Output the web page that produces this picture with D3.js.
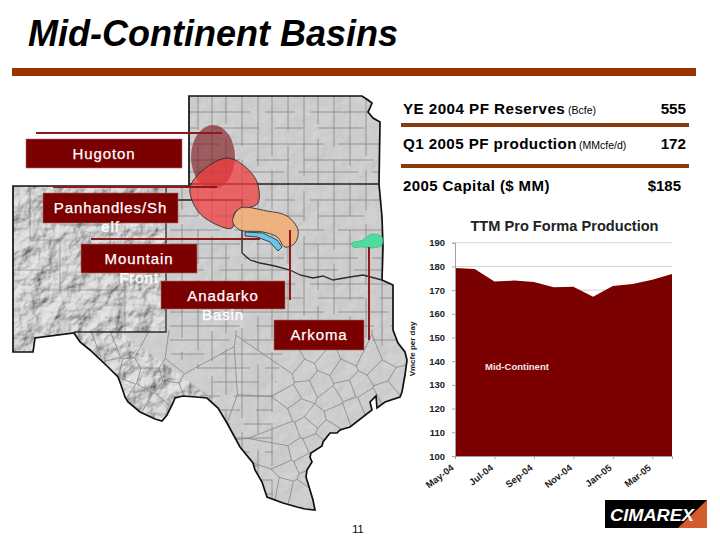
<!doctype html>
<html>
<head>
<script src="https://cdnjs.cloudflare.com/ajax/libs/d3/7.8.5/d3.min.js"></script>
<style>
  html, body { margin: 0; padding: 0; background: #fff; }
  text { font-family: "Liberation Sans", Arial, sans-serif; }
  .axis path.domain { stroke: #a0a0a0; }
  .axis line { stroke: #a0a0a0; }
  .axis text { font-family: "Liberation Sans", Arial, sans-serif; font-weight: bold; font-size: 9.5px; fill: #222; }
</style>
</head>
<body>
<svg id="slide" width="720" height="540"></svg>
<script>
// chart values
var months = ["May-04","Jun-04","Jul-04","Aug-04","Sep-04","Oct-04","Nov-04","Dec-04","Jan-05","Feb-05","Mar-05","Apr-05"];
var production = [179.3, 178.9, 173.6, 174.0, 173.4, 171.2, 171.4, 167.2, 171.7, 172.6, 174.4, 176.8];
var yTicks = [100,110,120,130,140,150,160,170,180,190];
var xTickLabels = ["May-04","Jul-04","Sep-04","Nov-04","Jan-05","Mar-05"];

// map shapes in slide pixels
var mapOutline = [[189,96],[362,96],[368,100],[372,103],[370,108],[368,112],[373,118],[380,122],[379,184],[382,217],[383,247],[382,280],[393,285],[393,330],[398,343],[405,352],[407,360],[405,375],[402,392],[400,397],[385,402],[377,408],[376,396],[370,402],[372,410],[350,427],[340,430],[337,433],[330,433],[323,442],[322,446],[311,453],[310,457],[312,462],[307,470],[306,477],[310,490],[313,500],[315,510],[305,509],[297,507],[283,503],[267,497],[262,482],[255,470],[253,463],[240,447],[227,423],[218,408],[207,398],[196,397],[183,396],[175,398],[173,403],[167,415],[162,421],[155,419],[140,412],[128,402],[125,397],[121,385],[118,377],[108,367],[90,350],[80,342],[74,333],[35,338],[33,352],[13,352],[13,186],[189,186]];
var stateLines = [
  [[189,184],[379,184]],
  [[177,200],[242,200],[242,253],[250,260],[260,263],[275,266],[290,270],[300,275],[313,278],[323,276],[333,280],[350,277],[363,275],[382,280]],
  [[166,186],[166,332],[74,332]]
];
var gridRegion = [[167,90],[400,90],[400,345],[283,350],[273,400],[273,510],[225,510],[200,397],[200,370],[167,352]];
var countyCols = [182,198,212,226,242,258,272,288,304,318,334,350,366,382];
var countyDash = ["60 14 40 14","34 16 70 14","80 15 30 15","28 15 46 16","50 14 90 14","70 16 34 14"];
var countyRows = [112,128,144,160,172,184,200,216,230,244,258,270,284,298,312,326,340,354,368,382,396,410,424,438,452,466,480,494];
var nmCounties = [[[30,186],[30,240],[60,240],[60,290]],[[60,186],[60,225],[110,225]],[[110,186],[110,262],[166,262]],[[60,290],[125,290],[125,332]],[[125,225],[125,262]],[[13,270],[60,270]]];
var countySeeds = [[292,362],[314,350],[328,362],[352,352],[370,361],[392,352],[281,378],[304,372],[319,384],[343,372],[358,386],[381,372],[399,383],[292,398],[306,390],[331,400],[347,390],[368,402],[388,392],[279,416],[299,408],[314,420],[337,414],[354,408],[286,434],[309,426],[326,432],[298,452],[316,444],[282,456],[288,470],[304,463],[283,488],[300,492],[310,478],[272,486],[92,358],[108,352],[126,345],[150,358],[172,372],[192,384],[128,372],[150,378],[170,392],[138,398],[156,408],[112,368],[180,362],[122,388]];

// basins
var redBasin = [[190,188],[203,170],[227,158],[243,165],[257,182],[258,203],[248,208],[235,212],[232,228],[213,223],[197,210]];
var orangeBasin = [[233,218],[240,208],[267,211],[287,216],[298,230],[295,243],[285,247],[277,237],[263,232],[240,230],[233,223]];
var blueBasin = [[245,232],[263,233],[277,240],[282,247],[278,251],[270,242],[257,237],[245,236]];
var greenBasin = [[352,243],[363,240],[372,234],[382,237],[382,245],[373,248],[363,247],[353,247]];

// basin label boxes
var labelNames = [["Hugoton"],["Panhandles/Sh","elf"],["Mountain","Front"],["Anadarko","Basin"],["Arkoma"]];
var labelBoxes = [[26,139,156,29],[43,193,135,30],[81,244,116,29],[161,281,124,28],[274,320,90,30]];
var leaderLines = [[36,133,222,133],[53,187,217,187],[91,239,260,239],[290,230,290,300],[369,247,369,340]];

var svg = d3.select("#slide");
var defs = svg.append("defs");
var polyLine = d3.line().curve(d3.curveLinearClosed);
var smooth = d3.line().curve(d3.curveCatmullRomClosed.alpha(0.5));
var openLine = d3.line();

defs.append("clipPath").attr("id", "mapClip").append("path").attr("d", polyLine(mapOutline));
defs.append("clipPath").attr("id", "gridClip").append("path").attr("d", polyLine(gridRegion));
defs.append("clipPath").attr("id", "westClip").append("path").attr("d", polyLine([[0,180],[166,180],[166,332],[120,332],[215,400],[170,430],[100,400],[60,340],[0,360]]));

function relief(id, freq, scale, light, elevation) {
  var f = defs.append("filter").attr("id", id).attr("x", 0).attr("y", 0).attr("width", "100%").attr("height", "100%");
  f.append("feTurbulence").attr("type", "fractalNoise").attr("baseFrequency", freq).attr("numOctaves", 4).attr("seed", 7).attr("result", "n");
  var l = f.append("feDiffuseLighting").attr("in", "n").attr("surfaceScale", scale).attr("diffuseConstant", 1).attr("lighting-color", light);
  l.append("feDistantLight").attr("azimuth", 225).attr("elevation", elevation);
}
relief("reliefSoft", 0.05, 1, "#dcdcdc", 60);
relief("reliefHard", 0.05, 6, "#e8e8e8", 50);

// title and rule
svg.append("text").attr("x", 28).attr("y", 46).attr("font-size", 36).attr("font-weight", "bold").attr("font-style", "italic").attr("fill", "#000").text("Mid-Continent Basins");
svg.append("rect").attr("x", 12).attr("y", 68).attr("width", 684).attr("height", 8).attr("fill", "#993300");

// map
var map = svg.append("g").attr("clip-path", "url(#mapClip)");
map.append("rect").attr("x", 0).attr("y", 90).attr("width", 420).attr("height", 430).attr("fill", "#c8c8c8");
map.append("rect").attr("x", 0).attr("y", 90).attr("width", 420).attr("height", 430).attr("filter", "url(#reliefSoft)").attr("opacity", 0.9);
map.append("g").attr("clip-path", "url(#westClip)")
  .append("rect").attr("x", 0).attr("y", 180).attr("width", 240).attr("height", 260).attr("filter", "url(#reliefHard)").attr("opacity", 0.9);

var grid = map.append("g").attr("clip-path", "url(#gridClip)").attr("stroke", "#858585").attr("stroke-width", 0.8);
grid.selectAll("line.col").data(countyCols).join("line").attr("class", "col")
  .attr("x1", d => d).attr("x2", d => d).attr("y1", 96).attr("y2", 510)
  .attr("stroke-dasharray", (d, i) => countyDash[i % countyDash.length]);
grid.selectAll("line.row").data(countyRows).join("line").attr("class", "row")
  .attr("x1", 170).attr("x2", 400).attr("y1", d => d).attr("y2", d => d)
  .attr("stroke-dasharray", (d, i) => countyDash[(i + 2) % countyDash.length]);

map.selectAll("path.nm").data(nmCounties).join("path").attr("class", "nm")
  .attr("d", d => openLine(d)).attr("fill", "none").attr("stroke", "#8a8a8a").attr("stroke-width", 0.7);

var voronoi = d3.Delaunay.from(countySeeds).voronoi([60, 330, 420, 520]);
map.append("path").attr("d", voronoi.render()).attr("fill", "none").attr("stroke", "#858585").attr("stroke-width", 0.8);

svg.append("path").attr("d", polyLine(mapOutline)).attr("fill", "none").attr("stroke", "#111").attr("stroke-width", 1.7);
svg.selectAll("path.state").data(stateLines).join("path").attr("class", "state")
  .attr("d", d => openLine(d)).attr("fill", "none").attr("stroke", "#2a2a2a").attr("stroke-width", 1.3);

// basins
svg.append("ellipse").attr("cx", 213).attr("cy", 157).attr("rx", 22).attr("ry", 32).attr("fill", "#7b0f16").attr("opacity", 0.6);
svg.append("path").attr("d", smooth(redBasin)).attr("fill", "#f23c3c").attr("fill-opacity", 0.72).attr("stroke", "#222").attr("stroke-width", 0.8);
svg.append("path").attr("d", smooth(orangeBasin)).attr("fill", "#f0b078").attr("fill-opacity", 0.92).attr("stroke", "#222").attr("stroke-width", 0.8);
svg.append("path").attr("d", polyLine(blueBasin)).attr("fill", "#6cc4e6").attr("stroke", "#222").attr("stroke-width", 0.8);
svg.append("path").attr("d", smooth(greenBasin)).attr("fill", "#4fdc9c").attr("stroke", "#2a6").attr("stroke-width", 0.5);

// leaders and label boxes
svg.selectAll("line.leader").data(leaderLines).join("line").attr("class", "leader")
  .attr("x1", d => d[0]).attr("y1", d => d[1]).attr("x2", d => d[2]).attr("y2", d => d[3])
  .attr("stroke", "#8b1a1a").attr("stroke-width", 2);

labelBoxes.forEach(function(b, i) {
  svg.append("rect").attr("x", b[0]).attr("y", b[1]).attr("width", b[2]).attr("height", b[3])
    .attr("fill", "#7b0000").attr("stroke", "#a86a6a").attr("stroke-width", 0.6);
  labelNames[i].forEach(function(t, j) {
    svg.append("text").attr("x", b[0] + b[2] / 2).attr("y", b[1] + 20 + j * 19)
      .attr("text-anchor", "middle").attr("font-size", 15).attr("letter-spacing", 0.9)
      .attr("fill", "#fff").attr("stroke", "#fff").attr("stroke-width", 0.25).text(t);
  });
});

// table at the top right
function stat(x, y, txt, size, weight, anchor, spacing) {
  svg.append("text").attr("x", x).attr("y", y).attr("font-size", size).attr("font-weight", weight || "normal")
    .attr("text-anchor", anchor || "start").attr("letter-spacing", spacing || 0).attr("fill", "#000").text(txt);
}
stat(403, 114, "YE 2004 PF Reserves", 15.2, "bold", "start", 0.45);
stat(568, 114, "(Bcfe)", 10.5);
stat(686, 114, "555", 15.2, "bold", "end");
stat(403, 149, "Q1 2005 PF production", 15.2, "bold", "start", 0.4);
stat(579, 149, "(MMcfe/d)", 10.5);
stat(686, 149, "172", 15.2, "bold", "end");
stat(403, 191, "2005 Capital ($ MM)", 15, "bold", "start", 0.4);
stat(681, 191, "$185", 15, "bold", "end");
svg.append("rect").attr("x", 401).attr("y", 123).attr("width", 288).attr("height", 4).attr("fill", "#8b3a0e");
svg.append("rect").attr("x", 401).attr("y", 164).attr("width", 288).attr("height", 4).attr("fill", "#8b3a0e");

// production chart
var x = d3.scalePoint().domain(months).range([455, 672]);
var y = d3.scaleLinear().domain([100, 190]).range([456, 242.7]);

svg.selectAll("line.hgrid").data(yTicks).join("line").attr("class", "hgrid")
  .attr("x1", 455).attr("x2", 672).attr("y1", d => y(d)).attr("y2", d => y(d))
  .attr("stroke", "#d4d4d4");

var area = d3.area().x((d, i) => x(months[i])).y0(y(100)).y1(d => y(d));
svg.append("path").datum(production).attr("d", area).attr("fill", "#7b0000");

svg.append("g").attr("class", "axis").attr("transform", "translate(455,0)")
  .call(d3.axisLeft(y).tickValues(yTicks).tickSize(3).tickPadding(7).tickFormat(d3.format("d")));
var xAxis = svg.append("g").attr("class", "axis").attr("transform", "translate(0," + y(100) + ")")
  .call(d3.axisBottom(x).tickValues(xTickLabels).tickSize(3));
xAxis.selectAll("text").attr("text-anchor", "end").attr("x", 0).attr("y", 0).attr("dy", 0)
  .attr("transform", "translate(-1,13) rotate(-38)");

svg.append("text").attr("x", 564.5).attr("y", 231).attr("text-anchor", "middle").attr("font-size", 14.6).attr("font-weight", "bold").attr("fill", "#222").text("TTM Pro Forma Production");
svg.append("text").attr("transform", "translate(415,349) rotate(-90)").attr("text-anchor", "middle").attr("font-size", 8).attr("font-weight", "bold").attr("fill", "#222").text("Vmcfe per day");
svg.append("text").attr("x", 485).attr("y", 370).attr("font-size", 9.5).attr("font-weight", "bold").attr("fill", "#f4e8e8").text("Mid-Continent");

// page number and logo
svg.append("text").attr("x", 358).attr("y", 533).attr("text-anchor", "middle").attr("font-size", 11).attr("fill", "#000").text("11");
svg.append("rect").attr("x", 605).attr("y", 500).attr("width", 102).attr("height", 28).attr("fill", "#000");
svg.append("path").attr("d", polyLine([[707,500],[707,528],[678,528]])).attr("fill", "#d45a30");
svg.append("text").attr("x", 610).attr("y", 521).attr("font-size", 17).attr("font-weight", "bold").attr("font-style", "italic").attr("textLength", 84).attr("lengthAdjust", "spacingAndGlyphs").attr("fill", "#fff").text("CIMAREX");
</script>
</body>
</html>
